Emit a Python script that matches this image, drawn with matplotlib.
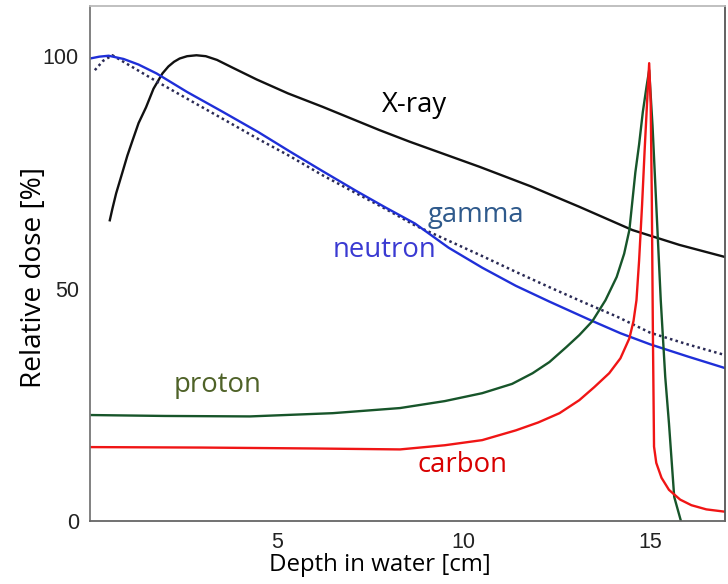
import matplotlib
matplotlib.use("Agg")
import matplotlib.pyplot as plt

# Depth-dose curves (depth in cm, dose in %)
xray_depth = [0.53, 0.6, 0.7, 0.86, 1.0, 1.14, 1.3, 1.5, 1.7, 1.94, 2.1, 2.25, 2.4, 2.6, 2.85,
              3.1, 3.4, 3.8, 4.46, 5.3, 6.23, 7.75, 8.56, 10.43, 11.8, 13.1, 14.52, 15.78, 17.0]
xray_dose = [64.7, 67.2, 70.5, 74.8, 78.6, 81.9, 85.6, 89.0, 93.0, 96.3, 97.8, 98.8, 99.5, 100.0,
             100.2, 100.0, 99.2, 97.6, 95.0, 92.0, 89.1, 84.1, 81.6, 76.2, 72.0, 67.6, 62.6,
             59.4, 56.8]

neutron_depth = [0.0, 0.25, 0.5, 0.9, 1.3, 1.78, 2.6, 3.56, 4.5, 5.35, 6.2, 7.13, 7.9, 8.7,
                 9.6, 10.5, 11.4, 12.3, 13.4, 14.2, 15.0, 16.0, 17.0]
neutron_dose = [99.5, 99.9, 100.1, 99.4, 98.2, 96.3, 92.3, 88.0, 83.7, 79.5, 75.4, 71.0, 67.5, 64.0,
                58.8, 54.5, 50.6, 47.2, 43.2, 40.4, 38.0, 35.4, 32.9]

gamma_depth = [0.13, 0.35, 0.6, 1.0, 1.8, 2.7, 3.56, 4.5, 5.35, 6.2, 7.13, 7.9, 8.7, 9.6,
               10.5, 11.4, 12.3, 13.2, 14.1, 15.0, 16.0, 17.0]
gamma_dose = [97.0, 99.0, 100.2, 98.3, 94.5, 90.4, 86.5, 82.2, 78.5, 74.5, 70.5, 67.2, 63.6, 60.3,
              57.0, 53.6, 50.3, 47.1, 44.0, 40.5, 38.0, 35.7]

proton_depth = [0.0, 2.0, 4.28, 6.5, 8.3, 9.5, 10.5, 11.3, 11.85, 12.3, 12.75, 13.1, 13.45, 13.8,
                14.1, 14.3, 14.44, 14.6, 14.7, 14.8, 14.9, 14.97, 15.06, 15.16, 15.28, 15.4,
                15.5, 15.64, 15.82]
proton_dose = [22.8, 22.6, 22.5, 23.2, 24.3, 25.8, 27.5, 29.5, 31.8, 34.2, 37.4, 40.0, 43.0, 47.5,
               52.5, 57.5, 62.6, 75.0, 81.0, 88.0, 93.5, 97.0, 85.0, 68.0, 47.5, 31.0,
               21.0, 5.2, 0.0]

carbon_depth = [0.0, 3.0, 6.0, 8.3, 9.5, 10.5, 11.4, 12.0, 12.57, 13.1, 13.5, 13.9, 14.2, 14.44,
                14.55, 14.63, 14.7, 14.78, 14.85, 14.92, 14.97, 15.01, 15.04, 15.07, 15.1,
                15.16, 15.3, 15.5, 15.8, 16.1, 16.5, 17.0]
carbon_dose = [15.9, 15.8, 15.6, 15.4, 16.3, 17.4, 19.5, 21.2, 23.2, 26.0, 28.8, 31.8, 35.0, 39.3,
               43.0, 47.5, 56.0, 68.0, 80.0, 91.0, 98.5, 90.0, 70.0, 40.0, 16.0,
               12.5, 9.3, 6.7, 4.6, 3.4, 2.5, 2.0]

x_ticks = [5, 10, 15]
y_ticks = [0, 50, 100]

# Curve names written next to each line: (text, depth, dose, colour)
curve_labels = [
    ("X-ray", 8.69, 89.5, "black"),
    ("gamma", 10.32, 65.8, "#2F5A8C"),
    ("neutron", 7.89, 58.3, "#3A3AD2"),
    ("proton", 3.42, 29.2, "#4F6228"),
    ("carbon", 9.97, 12.0, "#D80000"),
]

label_font = ["Open Sans", "DejaVu Sans"]
tick_font = ["Liberation Sans", "DejaVu Sans"]

fig = plt.figure(figsize=(7.28, 5.84), dpi=100)
ax = fig.add_axes([90 / 728, 1 - 521 / 584, 635 / 728, 515 / 584])

# Draw the five dose curves
ax.plot(xray_depth, xray_dose, color="#111111", lw=1.7)
ax.plot(gamma_depth, gamma_dose, color="#2A2A55", lw=1.8, linestyle=(0, (1, 1.3)))
ax.plot(neutron_depth, neutron_dose, color="#1F2FD8", lw=1.7)
ax.plot(proton_depth, proton_dose, color="#17552A", lw=1.7)
ax.plot(carbon_depth, carbon_dose, color="#F01515", lw=1.7)

for text, xd, yd, col in curve_labels:
    ax.text(xd, yd, text, color=col, fontsize=19.8, family=label_font,
            ha="center", va="center")

ax.set_xlim(0, 17.0)
ax.set_ylim(0, 110.8)
ax.set_xticks(x_ticks)
ax.set_yticks(y_ticks)
ax.tick_params(length=0, pad=8, labelsize=15.5)
for lab in ax.get_xticklabels() + ax.get_yticklabels():
    lab.set_family(tick_font)
    lab.set_color("#222222")

# Spines in different greys, like the scanned original
ax.spines["left"].set_color("#777777")
ax.spines["bottom"].set_color("#666666")
ax.spines["top"].set_color("#BBBBBB")
ax.spines["right"].set_color("#555555")
for s in ax.spines.values():
    s.set_linewidth(1.3)

fig.text(380 / 728, 1 - 565 / 584, "Depth in water [cm]", fontsize=17.3,
         family=label_font, ha="center", va="center")
fig.text(34 / 728, 1 - 278 / 584, "Relative dose [%]", fontsize=20.2,
         family=label_font, ha="center", va="center", rotation=90)

fig.savefig("out.png", dpi=100)
